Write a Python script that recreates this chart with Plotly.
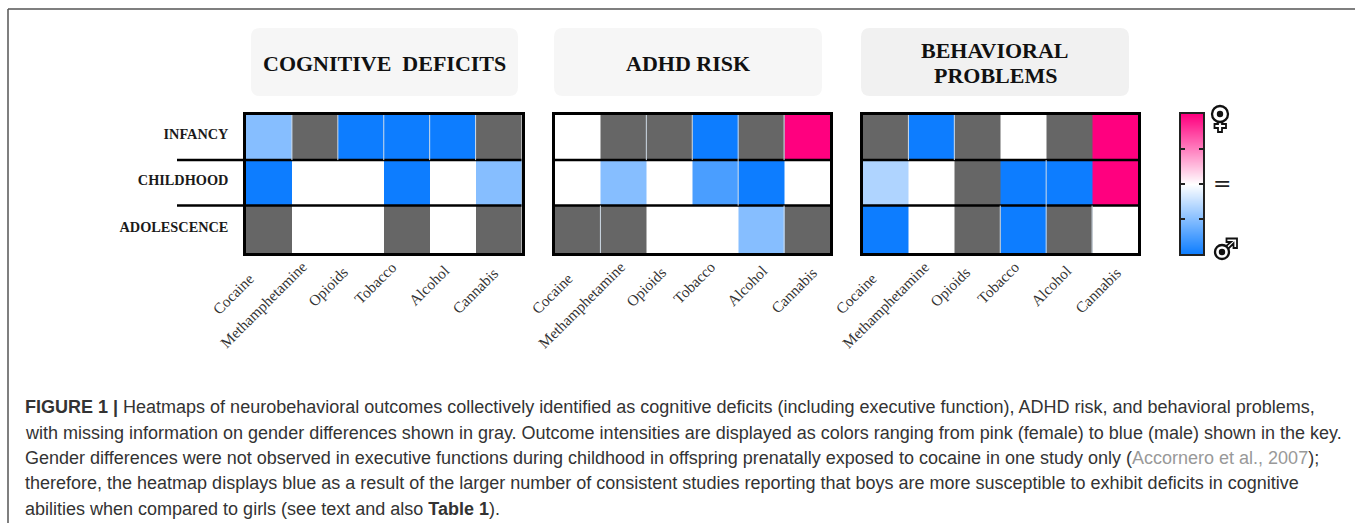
import plotly.graph_objects as go

W, H = 1355, 523
DRUGS = ["Cocaine", "Methamphetamine", "Opioids", "Tobacco", "Alcohol", "Cannabis"]
STAGES = ["INFANCY", "CHILDHOOD", "ADOLESCENCE"]
COGNITIVE = [[-0.5, None, -1, -1, -1, None],
             [-1, 0, 0, -1, 0, -0.5],
             [None, 0, 0, None, 0, None]]
ADHD = [[0, None, None, -1, None, 1],
        [0, -0.5, 0, -0.75, -1, 0],
        [None, None, 0, 0, -0.5, None]]
BEHAVIOR = [[None, -1, None, 0, None, 1],
            [-0.33, 0, None, -1, -1, 1],
            [-1, 0, None, -1, None, 0]]
KEY_LEVELS = [[-1, -1], [-0.5, -0.5], [0, 0], [0.5, 0.5], [1, 1]]
KEY_Y = [-1, -0.5, 0, 0.5, 1]
KEY_TICKS = [-0.5, 0, 0.5]
PANELS = [COGNITIVE, ADHD, BEHAVIOR]
ROW_EDGES = [-0.5, 0.48, 1.47, 2.5]
STAGE_TICKS = [-0.08, 0.92, 1.94]
SEPARATORS = [0.48, 1.47]
# light hairlines seen between cells: (column boundary, first row edge index)
HAIRLINES = [[(0.5, 0), (1.5, 0), (2.5, 0), (3.5, 0), (4.5, 0)],
             [(1.5, 0), (2.5, 0), (3.5, 0), (4.5, 0), (3.5, 1), (0.5, 2), (4.5, 2)],
             [(0.5, 0), (1.5, 0), (3.5, 1), (2.5, 2), (3.5, 2), (4.5, 2)]]
TITLES = [[("COGNITIVE&nbsp;&nbsp;DEFICITS", 63)], [("ADHD RISK", 63)],
          [("BEHAVIORAL", 50), ("PROBLEMS", 75)]]
CAPTION = [
    "<b>FIGURE 1 |</b> Heatmaps of neurobehavioral outcomes collectively identified as cognitive deficits (including executive function), ADHD risk, and behavioral problems,",
    "with missing information on gender differences shown in gray. Outcome intensities are displayed as colors ranging from pink (female) to blue (male) shown in the key.",
    "Gender differences were not observed in executive functions during childhood in offspring prenatally exposed to cocaine in one study only (<span style=\"color:#999999\">Accornero et al., 2007</span>);",
    "therefore, the heatmap displays blue as a result of the larger number of consistent studies reporting that boys are more susceptible to exhibit deficits in cognitive",
    "abilities when compared to girls (see text and also <b>Table 1</b>).",
]
CAPTION_Y = [407, 432.5, 458, 483, 508.5]

PX_PANELS = [(246, 521.5), (554.5, 830), (862.5, 1138)]
PX_BOXES = [(251, 518, "#f6f6f6"), (554, 822, "#f6f6f6"), (861, 1129, "#f1f1f1")]
PY_TOP, PY_BOT = 115, 253
LABEL_NUDGE_X = [-9, -2, -7, -4, 2, 6]
LABEL_END_Y = [267, 255, 261, 255, 259, 262]
PANEL_NUDGE_X = [0, 10, 6]

def fx(p): return p / W
def fy(p): return 1 - p / H

fig = go.Figure()
shapes, annos = [], []

for i, z in enumerate(PANELS):
    s = "" if i == 0 else str(i + 1)
    fig.add_trace(go.Heatmap(z=z, x=DRUGS, y=ROW_EDGES, coloraxis="coloraxis",
                             xaxis="x" + s, yaxis="y" + s, hoverongaps=False))
    x0, x1 = PX_PANELS[i]
    fig.update_layout({
        "xaxis" + s: dict(domain=[fx(x0), fx(x1)], anchor="y" + s, type="category",
                          range=[-0.5, 5.5], autorange=False,
                          showline=True, mirror=True, linewidth=2.5, linecolor="black",
                          ticks="", showgrid=False, zeroline=False, showticklabels=False,
                          automargin=False),
        "yaxis" + s: dict(domain=[fy(PY_BOT), fy(PY_TOP)], anchor="x" + s, range=[2.5, -0.5],
                          showline=True, mirror=True, linewidth=2.5, linecolor="black",
                          showgrid=False, zeroline=False, automargin=False,
                          tickvals=STAGE_TICKS, ticktext=["<b>%s</b>" % t for t in STAGES],
                          ticks="outside", ticklen=12, tickcolor="rgba(0,0,0,0)",
                          showticklabels=(i == 0),
                          tickfont=dict(family="Liberation Serif", size=14.3, color="#1a1a1a")),
    })
    xr, yr = "x" + s, "y" + s
    for j, d in enumerate(DRUGS):
        annos.append(dict(x=d, xref=xr, xshift=LABEL_NUDGE_X[j] + PANEL_NUDGE_X[i],
                          y=fy(LABEL_END_Y[j]), yref="paper", text=d, textangle=-45,
                          showarrow=False, xanchor="right", yanchor="top",
                          font=dict(family="Liberation Serif", size=15.3, color="#333333")))
    for sep in SEPARATORS:
        shapes.append(dict(type="line", xref=xr + " domain", yref=yr, x0=0, x1=1, y0=sep, y1=sep,
                           line=dict(color="black", width=2.5), layer="above"))
    for bx, ri in HAIRLINES[i]:
        shapes.append(dict(type="line", xref=xr, yref=yr, x0=bx, x1=bx,
                           y0=ROW_EDGES[ri], y1=ROW_EDGES[ri + 1],
                           line=dict(color="#d0dce8", width=1), layer="above"))
    # rounded title box
    bx0, bx1, col = PX_BOXES[i]
    t, b, r = 28, 96, 9
    L, R, T, B = fx(bx0), fx(bx1), fy(t), fy(b)
    rx, ry = r / W, r / H
    path = (f"M {L+rx} {T} L {R-rx} {T} Q {R} {T} {R} {T-ry} L {R} {B+ry} Q {R} {B} {R-rx} {B} "
            f"L {L+rx} {B} Q {L} {B} {L} {B+ry} L {L} {T-ry} Q {L} {T} {L+rx} {T} Z")
    shapes.append(dict(type="path", xref="paper", yref="paper", path=path, fillcolor=col,
                       line=dict(width=0), layer="below"))
    for txt, py in TITLES[i]:
        annos.append(dict(x=fx((bx0 + bx1) / 2), y=fy(py), xref="paper", yref="paper", text="<b>%s</b>" % txt,
                          showarrow=False, xanchor="center", yanchor="middle",
                          font=dict(family="Liberation Serif", size=22, color="#111111")))

# colour key
fig.add_trace(go.Heatmap(z=KEY_LEVELS, x=[0, 1], y=KEY_Y, coloraxis="coloraxis", zsmooth="best",
                         xaxis="x4", yaxis="y4", hoverinfo="skip"))
fig.update_layout(
    xaxis4=dict(domain=[fx(1181), fx(1203)], anchor="y4", range=[0, 1], showline=True, mirror=True,
                linewidth=2, linecolor="#222222", ticks="", showticklabels=False, showgrid=False, zeroline=False),
    yaxis4=dict(domain=[fy(254), fy(114)], anchor="x4", range=[-1, 1], showline=True, mirror="ticks",
                linewidth=2, linecolor="#222222", tickvals=KEY_TICKS, ticks="inside", ticklen=4, tickwidth=1.5,
                tickcolor="#222222", showticklabels=False, showgrid=False, zeroline=False),
)

# row rules that run out towards the stage labels in the first panel
for sep in SEPARATORS:
    shapes.append(dict(type="line", xref="paper", yref="y", x0=fx(177), x1=fx(246), y0=sep, y1=sep,
                       line=dict(color="black", width=2.5)))

# frame of the page
shapes.append(dict(type="line", xref="paper", yref="paper", x0=fx(8), x1=1, y0=fy(9), y1=fy(9),
                   line=dict(color="#555555", width=1.5)))
shapes.append(dict(type="line", xref="paper", yref="paper", x0=fx(8), x1=fx(8), y0=fy(9), y1=0,
                   line=dict(color="#555555", width=1.5)))

# key glyphs
def poly(pts):
    return "M " + " L ".join(f"{fx(a)} {fy(b)}" for a, b in pts) + " Z"
INK = "#111111"
def ring(cx, cy, r, fill, lw):
    shapes.append(dict(type="circle", xref="paper", yref="paper", x0=fx(cx - r), x1=fx(cx + r),
                       y0=fy(cy + r), y1=fy(cy - r), fillcolor=fill, line=dict(width=lw, color=INK)))
shapes.append(dict(type="path", xref="paper", yref="paper",
                   path=poly([(1218, 121), (1222, 121), (1222, 124), (1226, 124), (1226, 128), (1222, 128),
                              (1222, 132), (1218, 132), (1218, 128), (1214.5, 128), (1214.5, 124), (1218, 124)]),
                   fillcolor="white", line=dict(width=1.8, color=INK)))
ring(1220, 114, 8, "white", 2.3)
ring(1220, 114, 3.2, INK, 0)
shapes.append(dict(type="path", xref="paper", yref="paper",
                   path=poly([(1226.5, 238.5), (1237, 238.5), (1237, 248), (1233.5, 248), (1233.5, 243.5),
                              (1228, 249), (1225.5, 246.5), (1231, 242), (1226.5, 242)]),
                   fillcolor="white", line=dict(width=1.8, color=INK)))
ring(1222, 252, 7, "white", 2.3)
ring(1222, 252, 3.2, INK, 0)
annos.append(dict(x=fx(1221.5), y=fy(183), xref="paper", yref="paper", text="=", showarrow=False,
                  xanchor="center", yanchor="middle",
                  font=dict(family="DejaVu Sans", size=22, color="#222222")))

for line, py in zip(CAPTION, CAPTION_Y):
    annos.append(dict(x=fx(22.5), y=fy(py), xref="paper", yref="paper", text=line, showarrow=False,
                      xanchor="left", yanchor="middle", align="left",
                      font=dict(family="Liberation Sans", size=18, color="#333333")))

fig.update_layout(
    width=W, height=H, margin=dict(l=0, r=0, t=0, b=0), autosize=False,
    paper_bgcolor="white", plot_bgcolor="#666666", showlegend=False,
    shapes=shapes, annotations=annos,
    coloraxis=dict(cmin=-1, cmax=1, showscale=False,
                   colorscale=[[0, "#0d7dff"], [0.5, "#ffffff"], [1, "#ff007f"]]),
)
fig.write_html("out.html", config={"displayModeBar": False},
               post_script="document.body.style.margin='0';document.body.style.overflow='hidden';")
